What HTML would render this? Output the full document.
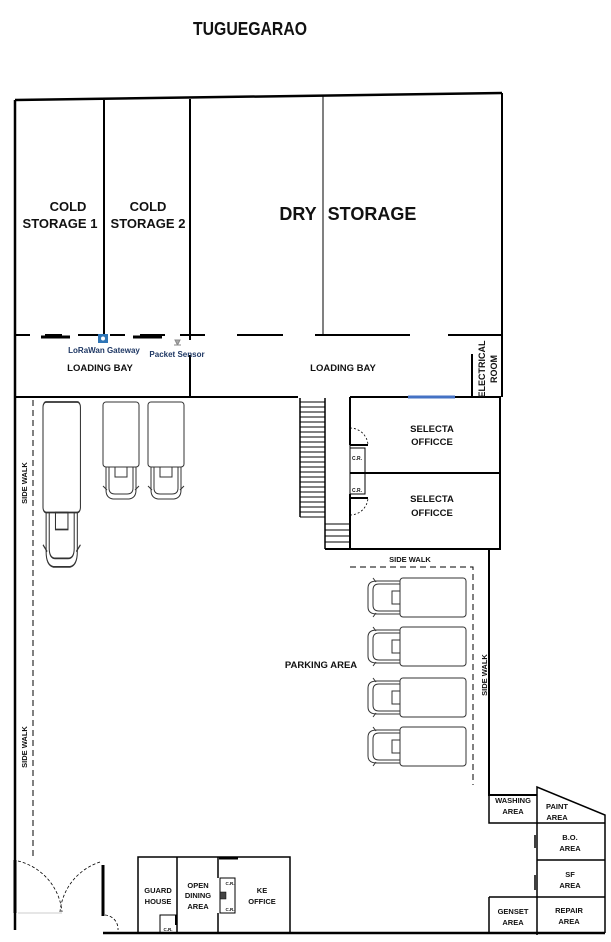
<!DOCTYPE html>
<html><head><meta charset="utf-8"><style>
html,body{margin:0;padding:0;background:#fff}
svg{display:block}
text{font-family:"Liberation Sans",sans-serif;font-weight:bold;fill:#111}
</style></head><body>
<svg width="611" height="942" viewBox="0 0 611 942" xmlns="http://www.w3.org/2000/svg">
<defs>
<g id="vt" fill="none" stroke="#333" stroke-width="1">
  <rect x="0" y="0" width="36" height="65" rx="3" fill="#fff"/>
  <path d="M3,65 V88 Q3,96 10,97 H26 Q33,96 33,88 V65"/>
  <path d="M6,65 V86 Q6,92 12,92 H24 Q30,92 30,86 V65"/>
  <rect x="12" y="65" width="12" height="10"/>
  <path d="M0,84 L4,88 M36,84 L32,88"/>
</g>
<g id="ht" fill="none" stroke="#333" stroke-width="1">
  <rect x="33" y="0" width="66" height="39" rx="3" fill="#fff"/>
  <path d="M33,3 H10 Q1,3 1,10 V29 Q1,36 10,36 H33"/>
  <path d="M33,6 H12 Q6,6 6,12 V27 Q6,33 12,33 H33"/>
  <rect x="25" y="13" width="8" height="13"/>
  <path d="M6,0 L9,4 M6,39 L9,35"/>
</g>
</defs>

<text x="250" y="35" font-size="18" text-anchor="middle" textLength="114" lengthAdjust="spacingAndGlyphs">TUGUEGARAO</text>

<g stroke="#000" fill="none">
  <!-- top wall -->
  <path d="M15,100 L502,93" stroke-width="2.5"/>
  <path d="M15,100 V930" stroke-width="2.5"/>
  <path d="M502,93 V397" stroke-width="2"/>
  <path d="M104,100 V335" stroke-width="2"/>
  <path d="M190,99 V340 M190,355 V397" stroke-width="2"/>
  <path d="M323,96 V335" stroke-width="1"/>
  <!-- loading bay line dashes -->
  <path d="M15,335 H30 M45,335 H62 M78,335 H100 M110,335 H125 M140,335 H165 M180,335 H205 M237,335 H283 M315,335 H410 M448,335 H502" stroke-width="2"/>
  <path d="M41,337 H70 M133,337 H162" stroke-width="3"/>
  <path d="M15,397 H298" stroke-width="2"/>
  <path d="M472,354 V397" stroke-width="2"/>
  <!-- selecta -->
  <path d="M350,397 H500 V549 H325 M350,397 V445 M350,494 V549 M350,473 H500" stroke-width="2"/>
  <path d="M300,398 V517 M325,398 V549 M350,548 V524" stroke-width="1.5"/>
  <path d="M350,445 V500" stroke-width="1"/>
  <rect x="350" y="448" width="15" height="46" stroke-width="1"/>
  <path d="M350,473 H364" stroke-width="2"/>
  <path d="M350,445 H368 M350,498 H368" stroke-width="2"/>
  <path d="M350,428 A18,18 0 0 1 368,445 M350,515 A18,18 0 0 0 368,498" stroke-width="0.8" stroke-dasharray="2,2"/>
  <!-- right site wall -->
  <path d="M489,549 V795 H537" stroke-width="2"/>
  <path d="M489,787 V823 H537 V787 L605,815 V933" stroke-width="1.5"/>
  <path d="M537,823 V935 M537,860 H605 M537,897 H605 M489,897 H537 M489,897 V933" stroke-width="1.5"/>
  <path d="M537,823 H605" stroke-width="1.5"/>
  <path d="M535,835 V848 M535,875 V890" stroke-width="1.5"/>
  <!-- bottom -->
  <path d="M103,933 H605" stroke-width="2.5"/>
  <path d="M15,860 V913 M103,865 V916" stroke-width="3"/>
  <path d="M18,861 A58,58 0 0 1 62,912 M100,862 A58,58 0 0 0 60,912 M105,915 A14,14 0 0 1 118,930" stroke-width="0.8" stroke-dasharray="3,2"/>
  <path d="M18,913 H62" stroke-width="0.5" stroke="#999"/>
  <!-- guard / dining / KE -->
  <rect x="138" y="857" width="152" height="76" stroke-width="1.5"/>
  <path d="M177,857 V933 M218,857 V878 M218,913 V933" stroke-width="1.5"/>
  <path d="M219,858 H238" stroke-width="3"/>
  <rect x="220" y="878" width="15" height="35" stroke-width="1"/>
  <rect x="220" y="892" width="6" height="7" fill="#444" stroke-width="0.5"/>
  <rect x="160" y="915" width="17" height="18" stroke-width="1"/>
  <path d="M176,915 V925" stroke-width="2"/>
  <!-- sidewalk dashes -->
  <path d="M33,400 V858" stroke-width="1" stroke-dasharray="6,4"/>
  <path d="M350,567 H473 V785" stroke-width="1" stroke-dasharray="6,4"/>
</g>
<path d="M408,397 H455" stroke="#4472c4" stroke-width="3"/>
<!-- stair hatches -->
<g stroke="#000" stroke-width="1">
  <path d="M300,402 H325 M300,407 H325 M300,412 H325 M300,417 H325 M300,422 H325 M300,427 H325 M300,432 H325 M300,437 H325 M300,442 H325 M300,447 H325 M300,452 H325 M300,457 H325 M300,462 H325 M300,467 H325 M300,472 H325 M300,477 H325 M300,482 H325 M300,487 H325 M300,492 H325 M300,497 H325 M300,502 H325 M300,507 H325 M300,512 H325 M300,517 H325"/>
  <path d="M325,524 H350 M325,530 H350 M325,536 H350 M325,542 H350"/>
</g>
<!-- trucks -->
<g transform="translate(43,402) scale(1.04,1.7)"><use href="#vt"/></g>
<use href="#vt" transform="translate(103,402)"/>
<use href="#vt" transform="translate(148,402)"/>
<use href="#ht" transform="translate(367,578)"/>
<use href="#ht" transform="translate(367,627)"/>
<use href="#ht" transform="translate(367,678)"/>
<use href="#ht" transform="translate(367,727)"/>
<!-- icons -->
<rect x="98" y="334" width="10" height="9" fill="#2e75b6"/>
<circle cx="103" cy="338.5" r="2" fill="#fff"/>
<path d="M175,340 h5 l-2,4 h-1z M174,345 h7" stroke="#888" fill="#aaa" stroke-width="1"/>

<!-- labels -->
<text x="68" y="211" font-size="13" text-anchor="middle">COLD</text>
<text x="60" y="228" font-size="13" text-anchor="middle">STORAGE 1</text>
<text x="148" y="211" font-size="13" text-anchor="middle">COLD</text>
<text x="148" y="228" font-size="13" text-anchor="middle">STORAGE 2</text>
<text x="298" y="220" font-size="18" text-anchor="middle">DRY</text>
<text x="372" y="220" font-size="18" text-anchor="middle">STORAGE</text>
<text x="104" y="353" font-size="8" text-anchor="middle" fill="#1f3864" style="fill:#1f3864">LoRaWan Gateway</text>
<text x="177" y="357" font-size="8" text-anchor="middle" style="fill:#1f3864">Packet Sensor</text>
<text x="100" y="371" font-size="9.5" text-anchor="middle">LOADING BAY</text>
<text x="343" y="371" font-size="9.5" text-anchor="middle">LOADING BAY</text>
<text transform="translate(485,369) rotate(-90)" font-size="9" text-anchor="middle">ELECTRICAL</text>
<text transform="translate(497,369) rotate(-90)" font-size="9" text-anchor="middle">ROOM</text>
<text x="432" y="432" font-size="9.5" text-anchor="middle">SELECTA</text>
<text x="432" y="445" font-size="9.5" text-anchor="middle">OFFICCE</text>
<text x="432" y="502" font-size="9.5" text-anchor="middle">SELECTA</text>
<text x="432" y="516" font-size="9.5" text-anchor="middle">OFFICCE</text>
<text x="357" y="460" font-size="5" text-anchor="middle">C.R.</text>
<text x="357" y="492" font-size="5" text-anchor="middle">C.R.</text>
<text x="410" y="562" font-size="7.5" text-anchor="middle">SIDE WALK</text>
<text x="321" y="668" font-size="9.5" text-anchor="middle">PARKING AREA</text>
<text transform="translate(487,675) rotate(-90)" font-size="7.5" text-anchor="middle">SIDE WALK</text>
<text transform="translate(27,483) rotate(-90)" font-size="7.5" text-anchor="middle">SIDE WALK</text>
<text transform="translate(27,747) rotate(-90)" font-size="7.5" text-anchor="middle">SIDE WALK</text>
<text x="513" y="803" font-size="7.5" text-anchor="middle">WASHING</text>
<text x="513" y="814" font-size="7.5" text-anchor="middle">AREA</text>
<text x="557" y="809" font-size="7.5" text-anchor="middle">PAINT</text>
<text x="557" y="820" font-size="7.5" text-anchor="middle">AREA</text>
<text x="570" y="840" font-size="7.5" text-anchor="middle">B.O.</text>
<text x="570" y="851" font-size="7.5" text-anchor="middle">AREA</text>
<text x="570" y="877" font-size="7.5" text-anchor="middle">SF</text>
<text x="570" y="888" font-size="7.5" text-anchor="middle">AREA</text>
<text x="569" y="913" font-size="7.5" text-anchor="middle">REPAIR</text>
<text x="569" y="924" font-size="7.5" text-anchor="middle">AREA</text>
<text x="513" y="914" font-size="7.5" text-anchor="middle">GENSET</text>
<text x="513" y="925" font-size="7.5" text-anchor="middle">AREA</text>
<text x="158" y="893" font-size="7.5" text-anchor="middle">GUARD</text>
<text x="158" y="904" font-size="7.5" text-anchor="middle">HOUSE</text>
<text x="198" y="888" font-size="7.5" text-anchor="middle">OPEN</text>
<text x="198" y="898" font-size="7.5" text-anchor="middle">DINING</text>
<text x="198" y="909" font-size="7.5" text-anchor="middle">AREA</text>
<text x="262" y="893" font-size="7.5" text-anchor="middle">KE</text>
<text x="262" y="904" font-size="7.5" text-anchor="middle">OFFICE</text>
<text x="230" y="885" font-size="4.5" text-anchor="middle">C.R.</text>
<text x="230" y="911" font-size="4.5" text-anchor="middle">C.R.</text>
<text x="168" y="931" font-size="4.5" text-anchor="middle">C.R.</text>
</svg>
</body></html>
